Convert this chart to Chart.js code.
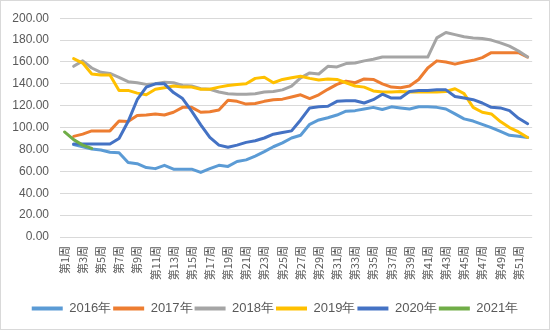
<!DOCTYPE html>
<html>
<head>
<meta charset="utf-8">
<script src="https://cdn.jsdelivr.net/npm/chart.js@4/dist/chart.umd.min.js"></script>
<style>
html,body{margin:0;padding:0;background:#fff;}
#wrap{width:550px;height:330px;position:relative;}
</style>
</head>
<body>
<div id="wrap"><canvas id="c" width="550" height="330"></canvas></div>
<script>
const weeks = ["第1周","第2周","第3周","第4周","第5周","第6周","第7周","第8周","第9周","第10周",
"第11周","第12周","第13周","第14周","第15周","第16周","第17周","第18周","第19周","第20周",
"第21周","第22周","第23周","第24周","第25周","第26周","第27周","第28周","第29周","第30周",
"第31周","第32周","第33周","第34周","第35周","第36周","第37周","第38周","第39周","第40周",
"第41周","第42周","第43周","第44周","第45周","第46周","第47周","第48周","第49周","第50周",
"第51周","第52周"];

const seriesNames = ["2016年","2017年","2018年","2019年","2020年","2021年"];

const y2016 = [null,84.5,82.5,80.5,79.5,77.5,77,68,67,63.5,62.5,65.5,62,62,62,59,62.5,65.5,64.5,69,
70.5,74,78,82.5,86,90.5,93,103,107,109,111.5,115,115.5,117,118.5,116.5,119,118,117,119,
119,118.5,117,112.5,108,106,103,100,96.5,93,92,91];
const y2017 = [null,92,94,97,97,97,106,105.5,111,111.5,112.5,111.5,114,118.5,118.5,114,114.5,116,125,124,
121.5,122,124,125.5,126,128,130,126.5,130,135,139.5,142.5,141,144.5,144,140,137,136.5,138,144,
154.5,161,160,158,160,161.5,164,168.5,168.5,168.5,168.5,164.5];
const y2018 = [null,156,161,154.5,150.5,149.5,146,142,141,139.5,140,141.5,141,138.5,138,135.5,135,132.5,131,130.5,
130.5,131,132.5,133,134.5,138,145.5,150,149,156,155.5,158.5,159,161,162.5,164.5,164.5,164.5,164.5,164.5,
164.5,182,187,185,183,182,181.5,180,177.5,174.5,170,164.5];
const y2019 = [null,163,159,149,148,148,134,134,131.5,130,135,136.5,138,137,137,135,135,137,138.5,139.5,
140,145,146,141,144,145.5,147,145,143.5,144.5,144,141,138,137,133.5,132.5,132.5,133,132.5,132.5,
132.5,132.5,133,135.5,131,118.5,114,112.5,105.5,100,96,91];
const y2020 = [null,85,85,85,85,85,90,105.5,125.5,137,140,140,132,126.5,115,102.5,91,84,82,84,
86.5,88,90.5,94,95.5,97,107,118,119,119.5,124,124.5,124.5,122.5,125.5,130.5,127,127,133,134,
134,134.5,134.5,128.5,127,125.5,122.5,118.5,118,115.5,108.5,103.5];
const y2021 = [96,89,84,81];

const yTicks = ["0.00","20.00","40.00","60.00","80.00","100.00","120.00","140.00","160.00","180.00","200.00"];

const colors = ["#5B9BD5","#ED7D31","#A5A5A5","#FFC000","#4472C4","#70AD47"];
const seriesData = [y2016,y2017,y2018,y2019,y2020,y2021];

const datasets = seriesData.map((d,i)=>({
  label: seriesNames[i],
  data: d,
  borderColor: colors[i],
  backgroundColor: colors[i],
  borderWidth: 3,
  pointRadius: 0,
  pointHoverRadius: 0,
  tension: 0,
  fill: false,
  spanGaps: false,
  order: seriesData.length - i,
  borderCapStyle: 'round',
  borderJoinStyle: 'round'
}));

const frame = {
  id: 'frame',
  afterDraw(chart){
    const ctx = chart.ctx;
    ctx.save();
    ctx.strokeStyle = '#d9d9d9';
    ctx.lineWidth = 1;
    ctx.strokeRect(0.5,0.5,chart.width-1,chart.height-1);
    ctx.restore();
  }
};

new Chart(document.getElementById('c'), {
  type: 'line',
  data: { labels: weeks, datasets },
  plugins: [frame],
  options: {
    responsive: false,
    animation: false,
    devicePixelRatio: 1,
    layout: { padding: { left: 0, right: 0, top: 11, bottom: 5 } },
    plugins: {
      tooltip: { enabled: false },
      legend: {
        position: 'bottom',
        labels: {
          boxWidth: 31,
          boxHeight: 4,
          padding: 2,
          color: '#595959',
          font: { family: '"Liberation Sans", Arial, sans-serif', size: 13 },
          generateLabels(chart){
            return Chart.defaults.plugins.legend.labels.generateLabels(chart)
              .map(l => Object.assign({}, l, { lineWidth: 0 }))
              .sort((a,b)=>a.datasetIndex-b.datasetIndex);
          }
        }
      }
    },
    scales: {
      x: {
        offset: true,
        grid: { display: false, drawTicks: false },
        border: { display: false },
        ticks: {
          autoSkip: false,
          maxRotation: 90,
          minRotation: 90,
          padding: 9,
          color: '#595959',
          font: { family: '"Noto Sans CJK SC", sans-serif', size: 11 },
          callback(v, i){ return i % 2 === 0 ? weeks[i] : ''; }
        },
        afterFit(s){ s.height = 63; }
      },
      y: {
        min: 0, max: 200,
        grid: { color: '#d9d9d9', lineWidth: 1, drawTicks: false },
        border: { display: false },
        ticks: {
          stepSize: 20,
          padding: 11,
          color: '#595959',
          font: { family: '"Liberation Sans", Arial, sans-serif', size: 12 },
          callback(v){ return yTicks[Math.round(v/20)]; }
        },
        afterFit(s){ s.width = 60; }
      },
      yRight: {
        position: 'right',
        display: true,
        grid: { display: false, drawTicks: false },
        border: { display: false },
        ticks: { display: false },
        afterFit(s){ s.width = 17; }
      }
    }
  }
});
</script>
</body>
</html>
